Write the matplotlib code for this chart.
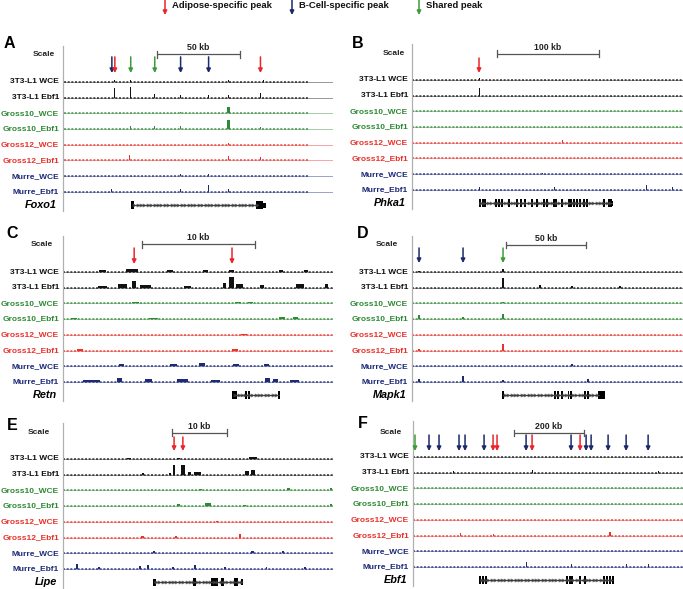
import matplotlib
matplotlib.use('Agg')
import matplotlib.pyplot as plt
import numpy as np

plt.rcParams['font.family'] = ['Liberation Sans', 'DejaVu Sans']

# ---------------- data ----------------
TRACKS = ['3T3-L1 WCE', '3T3-L1 Ebf1', 'Gross10_WCE', 'Gross10_Ebf1',
          'Gross12_WCE', 'Gross12_Ebf1', 'Murre_WCE', 'Murre_Ebf1']
LABEL_COLORS = ['#111111', '#111111', '#2f8a35', '#2f8a35',
                '#e8322b', '#e8322b', '#1c2a78', '#1c2a78']
SIGNAL_COLORS = ['#111111', '#111111', '#2f8a35', '#2f8a35',
                 '#e8322b', '#e8322b', '#1c2a78', '#1c2a78']
ARROW_COLORS = {'adipose': '#e8262b', 'bcell': '#1b2a6b', 'shared': '#3c9c3c'}
LEGEND_TEXT = ['Adipose-specific peak', 'B-Cell-specific peak', 'Shared peak']

GENES = ['Foxo1', 'Phka1', 'Retn', 'Mapk1', 'Lipe', 'Ebf1']
LETTERS = ['A', 'B', 'C', 'D', 'E', 'F']
REGION_KB = [163.0, 265.7, 23.9, 169.4, 49.1, 771.0]      # width of each window (kb)
DATA_KB = [(0.6, 148.7), (0.0, 265.7), (0.0, 23.9), (0.0, 169.4), (0.0, 49.1), (0.0, 771.0)]
SCALE_START = [56.6, 83.3, 7.0, 58.8, 19.8, 288.6]
SCALE_LEN = [50, 100, 10, 50, 10, 200]
SCALE_LABEL = ['50 kb', '100 kb', '10 kb', '50 kb', '10 kb', '200 kb']

# arrows: (position kb, kind)
ARROWS_A = [(29.5, 'bcell'), (31.3, 'adipose'), (40.9, 'shared'), (55.4, 'shared'),
            (71.0, 'bcell'), (87.9, 'bcell'), (119.2, 'adipose')]
ARROWS_B = [(65.7, 'adipose')]
ARROWS_C = [(6.3, 'adipose'), (14.96, 'adipose')]
ARROWS_D = [(4.4, 'bcell'), (31.9, 'bcell'), (56.9, 'shared')]
ARROWS_E = [(20.2, 'adipose'), (21.8, 'adipose')]
ARROWS_F = [(5.7, 'shared'), (45.7, 'bcell'), (74.3, 'bcell'), (131.4, 'bcell'),
            (148.6, 'bcell'), (202.9, 'bcell'), (228.6, 'adipose'), (240.0, 'adipose'),
            (322.9, 'bcell'), (340.0, 'adipose'), (451.4, 'bcell'), (477.1, 'adipose'),
            (494.3, 'bcell'), (508.6, 'bcell'), (557.1, 'bcell'), (608.6, 'bcell'),
            (671.4, 'bcell')]

# peaks: (track index 1..8, position kb, height in track units, width kb)
PEAKS_A = [(1, 31.3, 0.15, 0.6), (1, 40.9, 0.12, 0.6), (1, 100.0, 0.15, 0.6), (1, 121.0, 0.12, 0.6),
           (2, 31.3, 0.6, 0.6), (2, 40.9, 0.65, 0.6), (2, 55.4, 0.25, 0.6), (2, 71.0, 0.2, 0.6),
           (2, 100.0, 0.2, 0.6), (2, 119.2, 0.3, 0.6), (2, 87.9, 0.15, 0.6),
           (3, 100.0, 0.4, 1.8), (3, 71.0, 0.1, 0.6),
           (4, 100.0, 0.55, 1.8), (4, 40.9, 0.2, 0.6), (4, 55.4, 0.2, 0.6), (4, 71.0, 0.2, 0.6),
           (4, 119.2, 0.15, 0.6),
           (5, 100.0, 0.1, 0.6),
           (6, 40.3, 0.35, 0.9), (6, 100.0, 0.3, 0.9), (6, 119.2, 0.2, 0.6),
           (7, 71.0, 0.15, 0.6), (7, 87.9, 0.15, 0.6),
           (8, 87.9, 0.45, 0.6), (8, 29.5, 0.2, 0.6), (8, 71.0, 0.2, 0.6), (8, 100.0, 0.2, 0.6)]
PEAKS_B = [(1, 66.6, 0.1, 1.0), (2, 66.6, 0.5, 1.0), (5, 148.0, 0.15, 1.0), (7, 128.0, 0.1, 1.0),
           (8, 66.0, 0.2, 1.0), (8, 140.0, 0.2, 1.0), (8, 230.0, 0.3, 1.0), (8, 255.0, 0.2, 1.0)]
PEAKS_C = [(1, 6.1, 0.22, 1.0), (1, 3.5, 0.1, 0.6), (1, 9.5, 0.1, 0.5), (1, 12.6, 0.12, 0.4),
           (1, 14.9, 0.1, 0.5), (1, 19.3, 0.1, 0.4), (1, 21.5, 0.1, 0.4),
           (2, 6.3, 0.45, 0.4), (2, 5.3, 0.22, 0.8), (2, 7.3, 0.2, 0.9), (2, 14.9, 0.7, 0.5),
           (2, 14.3, 0.3, 0.3), (2, 15.6, 0.25, 0.6), (2, 21.0, 0.25, 0.7), (2, 23.3, 0.22, 0.3),
           (2, 3.5, 0.12, 0.8), (2, 11.0, 0.12, 0.6), (2, 17.6, 0.15, 0.4),
           (3, 6.4, 0.1, 0.6), (3, 15.5, 0.12, 0.6), (3, 16.6, 0.1, 0.5),
           (4, 8.0, 0.1, 0.8), (4, 19.4, 0.12, 0.5), (4, 20.6, 0.12, 0.4), (4, 1.0, 0.1, 0.5),
           (5, 16.0, 0.05, 0.5),
           (6, 1.5, 0.08, 0.6), (6, 15.2, 0.1, 0.5),
           (7, 12.3, 0.2, 0.5), (7, 5.2, 0.12, 0.4), (7, 9.8, 0.12, 0.6), (7, 15.3, 0.12, 0.5),
           (7, 18.0, 0.12, 0.4),
           (8, 2.5, 0.15, 1.5), (8, 5.0, 0.22, 0.4), (8, 7.6, 0.2, 0.6), (8, 10.6, 0.18, 1.0),
           (8, 13.5, 0.15, 0.8), (8, 18.1, 0.25, 0.4), (8, 18.8, 0.2, 0.5), (8, 20.5, 0.12, 0.8)]
PEAKS_D = [(1, 56.9, 0.2, 0.7), (1, 4.4, 0.08, 0.7),
           (2, 56.9, 0.6, 0.7), (2, 80.0, 0.15, 0.7), (2, 100.0, 0.12, 0.7), (2, 130.0, 0.12, 0.7),
           (3, 56.9, 0.12, 0.7),
           (4, 4.4, 0.25, 0.7), (4, 31.9, 0.15, 0.7), (4, 56.9, 0.35, 0.7),
           (6, 56.9, 0.4, 1.2), (6, 4.4, 0.1, 0.7),
           (7, 100.0, 0.15, 0.7),
           (8, 31.9, 0.4, 0.7), (8, 4.4, 0.2, 0.7), (8, 56.9, 0.15, 0.7), (8, 110.0, 0.2, 0.7)]
PEAKS_E = [(1, 34.5, 0.15, 1.5), (1, 21.0, 0.08, 0.6), (1, 12.0, 0.06, 0.6),
           (2, 20.2, 0.6, 0.5), (2, 21.8, 0.6, 0.7), (2, 19.5, 0.12, 0.4), (2, 24.5, 0.15, 1.2),
           (2, 33.5, 0.25, 0.8), (2, 34.6, 0.3, 0.8), (2, 14.5, 0.12, 0.4), (2, 23.0, 0.15, 0.6),
           (3, 25.0, 0.12, 0.5), (3, 41.0, 0.15, 0.4), (3, 48.8, 0.15, 0.4),
           (4, 21.0, 0.12, 0.5), (4, 26.4, 0.2, 1.2), (4, 33.0, 0.1, 0.5), (4, 48.8, 0.15, 0.4),
           (5, 28.0, 0.06, 0.5),
           (6, 32.2, 0.2, 0.4), (6, 20.5, 0.08, 0.4), (6, 14.5, 0.08, 0.5),
           (7, 16.5, 0.12, 0.4), (7, 34.5, 0.15, 0.6), (7, 40.0, 0.12, 0.4),
           (8, 2.5, 0.3, 0.4), (8, 6.5, 0.15, 0.3), (8, 14.0, 0.2, 0.3), (8, 15.5, 0.25, 0.4),
           (8, 20.0, 0.15, 0.3), (8, 24.0, 0.25, 0.5), (8, 29.5, 0.15, 0.3), (8, 37.0, 0.15, 0.3),
           (8, 44.0, 0.15, 0.3)]
PEAKS_F = [(1, 228.6, 0.1, 2.5),
           (2, 2.9, 0.45, 2.5), (2, 228.6, 0.45, 2.5), (2, 237.0, 0.45, 2.5), (2, 340.0, 0.2, 2.5),
           (2, 477.0, 0.5, 2.5), (2, 115.0, 0.12, 2.5), (2, 700.0, 0.12, 2.5),
           (4, 2.9, 0.2, 2.5), (4, 300.0, 0.1, 2.5),
           (6, 148.6, 0.45, 2.5), (6, 135.0, 0.15, 2.5), (6, 563.0, 0.2, 5.0), (6, 230.0, 0.1, 2.5),
           (8, 45.7, 0.25, 2.5), (8, 202.9, 0.2, 2.5), (8, 322.9, 0.3, 2.5), (8, 451.4, 0.2, 2.5),
           (8, 608.6, 0.2, 2.5), (8, 671.4, 0.2, 2.5), (8, 131.4, 0.2, 2.5)]

# gene models: intron span and exons (start kb, end kb, height)
GENE_SPAN = [(42.0, 117.0), (66.0, 196.0), (15.1, 19.1), (57.0, 117.0), (16.6, 32.5), (191.0, 566.0)]
EXONS_A = [(41.0, 42.6, 0.5), (116.8, 120.8, 0.5), (120.8, 122.4, 0.3)]
EXONS_B = [(66.0, 68.0, 0.5), (68.6, 70.2, 0.5), (70.8, 72.6, 0.5), (81.0, 83.0, 0.5),
           (84.0, 86.0, 0.5), (86.8, 88.8, 0.5), (94.0, 96.0, 0.5), (102.0, 104.0, 0.5),
           (105.5, 107.5, 0.5), (110.0, 112.0, 0.5), (117.0, 119.0, 0.5), (122.0, 124.0, 0.5),
           (128.0, 130.0, 0.5), (131.0, 133.0, 0.5), (138.0, 142.0, 0.5), (146.0, 148.0, 0.5),
           (152.5, 154.5, 0.5), (155.0, 157.0, 0.5), (158.0, 160.0, 0.5), (161.0, 163.0, 0.5),
           (164.0, 166.0, 0.5), (167.5, 169.5, 0.5), (171.0, 173.0, 0.5), (187.0, 189.0, 0.5),
           (192.0, 196.0, 0.5), (196.0, 197.5, 0.3)]
EXONS_C = [(15.0, 15.4, 0.5), (16.1, 16.3, 0.5), (16.35, 16.55, 0.5), (19.0, 19.25, 0.5)]
EXONS_D = [(56.5, 57.5, 0.5), (89.0, 90.0, 0.5), (90.6, 91.6, 0.5), (93.2, 94.2, 0.5),
           (97.4, 98.4, 0.5), (98.8, 99.8, 0.5), (107.8, 108.8, 0.5), (109.4, 110.4, 0.5),
           (116.5, 120.6, 0.5)]
EXONS_E = [(16.4, 16.9, 0.45), (23.7, 24.2, 0.5), (26.9, 28.2, 0.5), (28.8, 29.3, 0.5),
           (31.1, 31.9, 0.5), (32.3, 32.8, 0.35)]
EXONS_F = [(189.0, 194.0, 0.5), (197.0, 202.0, 0.5), (205.0, 210.0, 0.5),
           (437.0, 442.0, 0.5), (445.0, 450.0, 0.5), (452.0, 457.0, 0.5), (475.0, 480.0, 0.5),
           (489.0, 494.0, 0.5), (542.0, 547.0, 0.5), (551.0, 556.0, 0.5),
           (561.0, 566.0, 0.5), (568.0, 573.0, 0.5)]

ARROWS = [ARROWS_A, ARROWS_B, ARROWS_C, ARROWS_D, ARROWS_E, ARROWS_F]
PEAKS = [PEAKS_A, PEAKS_B, PEAKS_C, PEAKS_D, PEAKS_E, PEAKS_F]
EXONS = [EXONS_A, EXONS_B, EXONS_C, EXONS_D, EXONS_E, EXONS_F]

# ---------------- layout (pixels) ----------------
W, H = 683, 589
SP = 15.7  # track spacing in px
PANEL_BOX = [(63, 333, 82), (412, 683, 80), (63, 333, 272),
             (412, 683, 272), (63, 333, 459), (413, 683, 457)]  # left, right, first track y
SCALE_Y = [-0.78, -0.66, -0.78, -0.72, -0.66, -0.53]
SCALE_OFF_PX = [8, 7, 10, 14, 13, 11]
ARROW_Y = [(-0.6, 0.43), (-0.4, 0.55), (-0.53, 0.49), (-0.53, 0.43), (-0.4, 0.49), (-0.4, 0.62)]
LETTER_POS = [(9, 43), (358, 43), (12, 233), (363, 233), (12, 425), (363, 424)]
GENE_Y = 8.85
YTOP, YBOT = -1.3, 9.2
PT = 0.72  # points per pixel at 100 dpi

fig = plt.figure(figsize=(W / 100, H / 100), dpi=100)

for p in range(6):
    L, R, t1 = PANEL_BOX[p]
    top = t1 - (1 - YTOP) * SP
    hpx = (YBOT - YTOP) * SP
    ax = fig.add_axes([L / W, 1 - (top + hpx) / H, (R - L) / W, hpx / H])
    ax.set_xlim(0, REGION_KB[p])
    ax.set_ylim(YBOT, YTOP)
    for s in ['top', 'right', 'bottom']:
        ax.spines[s].set_visible(False)
    ax.spines['left'].set_color('#b0b0b0')
    ax.spines['left'].set_linewidth(0.9)
    ax.set_xticks([])
    ax.set_yticks([])
    ax.patch.set_alpha(0)
    kbpx = REGION_KB[p] / (R - L)

    # scale row
    ys = SCALE_Y[p]
    s0, sl = SCALE_START[p], SCALE_LEN[p]
    ax.plot([s0, s0 + sl], [ys, ys], color='#555555', lw=0.9, solid_capstyle='butt')
    for xe in (s0, s0 + sl):
        ax.plot([xe, xe], [ys - 0.22, ys + 0.22], color='#555555', lw=0.9)
    ax.text(s0 + sl / 2, ys - 0.12, SCALE_LABEL[p], ha='center', va='bottom',
            fontsize=6.3, fontweight='bold', color='#222222')
    ax.annotate('Scale', xy=(0, ys), xycoords=('axes fraction', 'data'),
                xytext=(-SCALE_OFF_PX[p] * PT, 0), textcoords='offset points',
                ha='right', va='center', fontsize=6.0, fontweight='bold', color='#222222')

    # arrows
    ya0, ya1 = ARROW_Y[p]
    for xk, kind in ARROWS[p]:
        ax.annotate('', xy=(xk, ya1), xytext=(xk, ya0),
                    arrowprops=dict(arrowstyle='-|>', color=ARROW_COLORS[kind], lw=1.1,
                                    mutation_scale=6, shrinkA=0, shrinkB=0))

    # tracks
    d0, d1 = DATA_KB[p]
    for i, name in enumerate(TRACKS):
        yb = i + 1
        c = SIGNAL_COLORS[i]
        ax.plot([0, REGION_KB[p]], [yb, yb], color=c, lw=0.6, alpha=0.5)
        ax.plot([d0, d1], [yb, yb], color=c, lw=1.2, alpha=0.8,
                linestyle=(0, (1.2, 1.0)), dash_capstyle='butt')
        ax.annotate(name, xy=(0, yb), xycoords=('axes fraction', 'data'),
                    xytext=(-4 * PT, 0), textcoords='offset points', ha='right', va='center',
                    fontsize=6.0, fontweight='bold', color=LABEL_COLORS[i])
    for trk, xk, hgt, wk in PEAKS[p]:
        ax.bar(xk, -hgt, width=max(wk, 0.8 * kbpx), bottom=trk,
               color=SIGNAL_COLORS[trk - 1], linewidth=0)

    # gene model
    g0, g1 = GENE_SPAN[p]
    ax.plot([g0, g1], [GENE_Y, GENE_Y], color='#333333', lw=0.7)
    step = 3.4 * kbpx
    chev = np.arange(g0 + step / 2, g1, step)
    ax.plot(chev, np.full_like(chev, GENE_Y), linestyle='none', marker='>', ms=2.2,
            mfc='none', mec='#444444', mew=0.5)
    for e0, e1, eh in EXONS[p]:
        ax.bar(e0, eh, width=e1 - e0, bottom=GENE_Y - eh / 2, align='edge',
               color='black', linewidth=0)
    ax.annotate(GENES[p], xy=(0, GENE_Y), xycoords=('axes fraction', 'data'),
                xytext=(-6 * PT, 0), textcoords='offset points', ha='right', va='center',
                fontsize=7.8, fontweight='bold', fontstyle='italic', color='black')

# overlay for panel letters and top legend
ov = fig.add_axes([0, 0, 1, 1])
ov.set_xlim(0, W)
ov.set_ylim(H, 0)
ov.axis('off')
ov.patch.set_alpha(0)
for (lx, ly), let in zip(LETTER_POS, LETTERS):
    ov.text(lx, ly, let, ha='center', va='center', fontsize=11.5, fontweight='bold')

LEG_X = [(165, 172), (292, 299), (419, 426)]
for (ax_x, tx), txt, kind in zip(LEG_X, LEGEND_TEXT, ['adipose', 'bcell', 'shared']):
    ov.annotate('', xy=(ax_x, 15), xytext=(ax_x, 0),
                arrowprops=dict(arrowstyle='-|>', color=ARROW_COLORS[kind], lw=1.1,
                                mutation_scale=6, shrinkA=0, shrinkB=0))
    ov.text(tx, 6, txt, ha='left', va='center', fontsize=6.8, fontweight='bold', color='#111111')

fig.savefig('out.png', dpi=100)
